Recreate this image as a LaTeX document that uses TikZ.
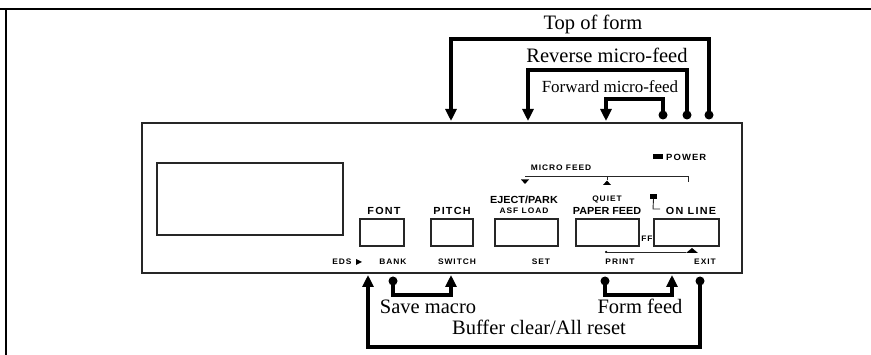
\documentclass[tikz,border=0pt]{standalone}
\usepackage{fontspec}
\setmainfont{Liberation Serif}
\newfontfamily\panelfont{Liberation Sans}[FakeStretch=1.05]
\newfontfamily\panelwide{Liberation Sans}[FakeStretch=1.05, LetterSpace=12]
\usetikzlibrary{arrows.meta}
\begin{document}
\begin{tikzpicture}[x=1pt,y=-1pt,
  frameline/.style={line width=2pt, draw=black},
  thinline/.style={line width=0.9pt, draw=black!85},
  keybox/.style={draw=black!85, line width=1.1pt, inner sep=0, minimum height=27pt},
  biglab/.style={font=\panelfont\bfseries\fontsize{10.3}{11}\selectfont, inner sep=0, anchor=base},
  widelab/.style={font=\panelwide\bfseries\fontsize{10.3}{11}\selectfont, inner sep=0, anchor=base},
  smalllab/.style={font=\panelwide\bfseries\fontsize{8}{9}\selectfont, inner sep=0, anchor=base},
  note/.style={font=\fontsize{20.5}{22}\selectfont, inner sep=0, anchor=base},
  smallnote/.style={font=\fontsize{17}{19}\selectfont, inner sep=0, anchor=base},
  bigarrow/.style={line width=4pt, line join=miter, -{Triangle[width=11pt,length=12pt]}},
  dotnode/.style={circle, fill=black, inner sep=0, minimum size=9pt}
]
\useasboundingbox (0,0) rectangle (871,355);
% outer frame
\coordinate (fTL) at (6,9);
\coordinate (fTR) at (871,9);
\coordinate (fBL) at (6,355);
\coordinate (fL0) at (0,9);
\draw[frameline] (fL0) -- (fTR);
\draw[frameline] (fTL) -- (fBL);

% panel
\node[draw=black!85, line width=1.1pt, inner sep=0, minimum width=600pt, minimum height=150pt] (panel) at (442,198) {};
\node[draw=black!85, line width=1.1pt, inner sep=0, minimum width=186pt, minimum height=72pt] (window) at (250,199) {};

% keys
\node[keybox, minimum width=44pt] (kfont) at (382,232.5) {};
\node[keybox, minimum width=42pt] (kpitch) at (452,232.5) {};
\node[keybox, minimum width=63pt] (keject) at (526.5,232.5) {};
\node[keybox, minimum width=63pt] (kpaper) at (607.5,232.5) {};
\node[keybox, minimum width=65pt] (konline) at (686.5,232.5) {};

% key labels
\node[widelab] (lfont) at (384,215) {FONT};
\node[widelab] (lpitch) at (452,215) {PITCH};
\node[biglab] (leject) at (524,204) {EJECT/PARK};
\node[smalllab] (lasf) at (524,213.5) {ASF LOAD};
\node[smalllab] (lquiet) at (607,202) {QUIET};
\node[biglab] (lpaper) at (607,214.5) {PAPER FEED};
\node[widelab] (lonline) at (691,214.5) {ON LINE};

% power
\node[fill=black, inner sep=0, minimum width=10pt, minimum height=5pt] (powsq) at (658,157) {};
\node[smalllab, anchor=base west, font=\panelwide\bfseries\fontsize{9}{10}\selectfont] (lpower) at (666,160.5) {POWER};

% on line indicator
\node[fill=black, inner sep=0, minimum width=7pt, minimum height=5pt] (onsq) at (653.5,196.5) {};
\coordinate (onc1) at (653,209);
\coordinate (onc2) at (660,209);
\draw[thinline] (onsq.south) -- (onc1) -- (onc2);

% micro feed bracket
\node[smalllab] (lmicro) at (561,171) {MICRO FEED};
\coordinate (mfL) at (525,176);
\coordinate (mfM) at (607,176);
\coordinate (mfR) at (688,176);
\coordinate (mfMt) at (607,180);
\coordinate (mfRt) at (688,182);
\draw[thinline] (mfL) -- (mfR) -- (mfRt);
\draw[thinline] (mfM) -- (mfMt);
\fill (521,179.5) -- (529,179.5) -- (525,184) -- cycle;
\fill (603,185) -- (611,185) -- (607,180.5) -- cycle;

% FF and print line
\node[smalllab] (lff) at (647,241.5) {FF};
\node[circle, fill=black, inner sep=0, minimum size=2.5pt] (prdot) at (606,252) {};
\coordinate (prend) at (686,252);
\draw[thinline] (prdot) -- (prend);
\fill (686,253) -- (698,253) -- (692,248) -- cycle;

% bottom labels
\node[smalllab] (leds) at (342,264.5) {EDS};
\fill (356,259) -- (356,265) -- (362,262) -- cycle;
\node[smalllab] (lbank) at (393,264.5) {BANK};
\node[smalllab] (lswitch) at (457,264.5) {SWITCH};
\node[smalllab] (lset) at (541,264.5) {SET};
\node[smalllab] (lprint) at (620,264.5) {PRINT};
\node[smalllab] (lexit) at (705,264.5) {EXIT};

% top annotations
\node[note] (ttof) at (593,30) {Top of form};
\node[note] (trev) at (607,63) {Reverse micro-feed};
\node[smallnote] (tfwd) at (610,92.5) {Forward micro-feed};

\node[dotnode] (tofdot) at (709,115) {};
\coordinate (tofbar) at (580,39);
\coordinate (toftip) at (451,121);
\draw[bigarrow] (tofdot.center) |- (tofbar) -| (toftip);

\node[dotnode] (revdot) at (687,115) {};
\coordinate (revbar) at (600,70);
\coordinate (revtip) at (528,121);
\draw[bigarrow] (revdot.center) |- (revbar) -| (revtip);

\node[dotnode] (fwddot) at (663,115) {};
\coordinate (fwdbar) at (630,99);
\coordinate (fwdtip) at (606,121);
\draw[bigarrow] (fwddot.center) |- (fwdbar) -| (fwdtip);

% bottom annotations
\node[note] (tsave) at (428,314) {Save macro};
\node[note] (tform) at (640,314) {Form feed};
\node[note] (tbuf) at (539,335) {Buffer clear/All reset};

\node[dotnode] (savedot) at (393,281) {};
\coordinate (savebar) at (420,295);
\coordinate (savetip) at (451,275);
\draw[bigarrow] (savedot.center) |- (savebar) -| (savetip);

\node[dotnode] (formdot) at (605,281) {};
\coordinate (formbar) at (640,295);
\coordinate (formtip) at (672,275);
\draw[bigarrow] (formdot.center) |- (formbar) -| (formtip);

\node[dotnode] (bufdot) at (700,281) {};
\coordinate (bufbar) at (540,347);
\coordinate (buftip) at (368,275);
\draw[bigarrow] (bufdot.center) |- (bufbar) -| (buftip);
\end{tikzpicture}
\end{document}
